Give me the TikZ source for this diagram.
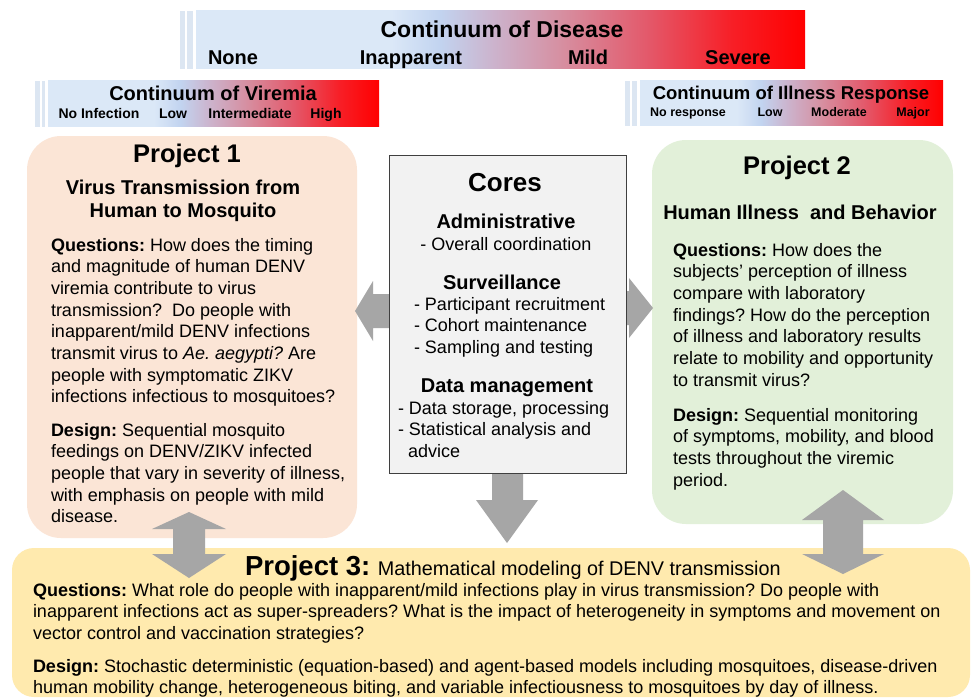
\documentclass[tikz,border=0pt]{standalone}
\usepackage{fontspec}
\setmainfont{Liberation Sans}
\frenchspacing
\definecolor{pAfill}{HTML}{FBE5D6}
\definecolor{pBfill}{HTML}{E2F0D9}
\definecolor{pCfill}{HTML}{FFEAAE}
\definecolor{corefill}{HTML}{F2F2F2}
\definecolor{coreline}{HTML}{3F3F3F}
\definecolor{arrowgray}{HTML}{A6A6A6}
\definecolor{stripe}{HTML}{DCE6F2}
\pgfdeclarehorizontalshading{contgrad}{100bp}{rgb(0bp)=(0.86,0.91,0.97); rgb(25bp)=(0.86,0.91,0.97); rgb(41bp)=(0.86,0.91,0.97); rgb(45bp)=(0.76,0.83,0.94); rgb(49.5bp)=(0.80,0.70,0.80); rgb(55bp)=(0.84,0.56,0.63); rgb(62bp)=(0.89,0.35,0.42); rgb(69bp)=(0.97,0.12,0.15); rgb(75bp)=(1,0,0); rgb(100bp)=(1,0,0)}
\newcommand\fsz[1]{\fontsize{#1}{21.7}\selectfont}
\newcommand\para[1]{\vtop{\baselineskip=21.7pt #1}}
\begin{document}
\begin{tikzpicture}[x=1pt,y=-1pt,
  every node/.style={inner sep=0pt, outer sep=0pt, text=black},
  body/.style={anchor=base west, font=\fsz{18}},
  head/.style={anchor=base, font=\fsz{20}\bfseries},
  ttl/.style={anchor=base, font=\fsz{25.5}\bfseries},
  arrowfill/.style={fill=arrowgray}]
\useasboundingbox (0,0) rectangle (971,698);
\fill[white] (0,0) rectangle (971,698);

% ---- continuum bars ----
\fill[stripe] (180,11) rectangle (185,69);
\fill[stripe] (187,11) rectangle (193,69);
\shade[shading=contgrad] (196,11) rectangle (805,69);
\node[anchor=base, font=\fsz{23}\bfseries] (disT) at (502,38) {Continuum of Disease};
\node[anchor=base, font=\fsz{20}\bfseries] (dis1) at (233,65) {None};
\node[anchor=base, font=\fsz{20}\bfseries] (dis2) at (411,65) {Inapparent};
\node[anchor=base, font=\fsz{20}\bfseries] (dis3) at (588,65) {Mild};
\node[anchor=base, font=\fsz{20}\bfseries] (dis4) at (738,65) {Severe};

\fill[stripe] (35,81) rectangle (40,127);
\fill[stripe] (42,81) rectangle (45,127);
\shade[shading=contgrad] (48,81) rectangle (379,127);
\node[anchor=base, font=\fsz{20}\bfseries] (virT) at (213,101) {Continuum of Viremia};
\node[anchor=base, font=\fsz{14}\bfseries] (vir1) at (99,118) {No Infection};
\node[anchor=base, font=\fsz{14}\bfseries] (vir2) at (173,118) {Low};
\node[anchor=base, font=\fsz{14}\bfseries] (vir3) at (250,118) {Intermediate};
\node[anchor=base, font=\fsz{14}\bfseries] (vir4) at (326,118) {High};

\fill[stripe] (625,81) rectangle (630,126);
\fill[stripe] (632,81) rectangle (637,126);
\shade[shading=contgrad] (640,81) rectangle (943,126);
\node[anchor=base, font=\fsz{18.5}\bfseries] (illT) at (791,100) {Continuum of Illness Response};
\node[anchor=base, font=\fsz{12.5}\bfseries] (ill1) at (688,116.5) {No response};
\node[anchor=base, font=\fsz{12.5}\bfseries] (ill2) at (770,116.5) {Low};
\node[anchor=base, font=\fsz{12.5}\bfseries] (ill3) at (839,116.5) {Moderate};
\node[anchor=base, font=\fsz{12.5}\bfseries] (ill4) at (913,116.5) {Major};

% ---- boxes ----
\node[fill=pAfill, rounded corners=34pt, minimum width=330pt, minimum height=402pt, anchor=north west] (p1) at (27,136) {};
\node[fill=pBfill, rounded corners=34pt, minimum width=301pt, minimum height=384pt, anchor=north west] (p2) at (652,140) {};
\node[fill=pCfill, rounded corners=22pt, minimum width=958pt, minimum height=149pt, anchor=north west] (p3) at (12,548) {};

% ---- arrows from cores ----
\fill[arrowfill] (390,294) -- (373,294) -- (373,281) -- (355,311) -- (373,341) -- (373,328) -- (390,328) -- cycle;
\fill[arrowfill] (625,291) -- (629,291) -- (629,278) -- (653,308) -- (629,338) -- (629,325) -- (625,325) -- cycle;
\fill[arrowfill] (492,472) -- (523,472) -- (523,500) -- (538,500) -- (507,543) -- (476,500) -- (492,500) -- cycle;

\node[fill=corefill, draw=coreline, line width=1pt, minimum width=237pt, minimum height=318pt, anchor=north west] (cores) at (389,155) {};

% ---- double arrows ----
\fill[arrowfill] (173,529) -- (152,529) -- (189,512) -- (226,529) -- (205,529) -- (205,554) -- (226,554) -- (189,578) -- (152,554) -- (173,554) -- cycle;
\fill[arrowfill] (823,520) -- (802,520) -- (843,490) -- (884,520) -- (863,520) -- (863,554) -- (884,554) -- (843,574) -- (802,554) -- (823,554) -- cycle;

% ---- Project 1 ----
\node[ttl] (p1t) at (187,162) {Project 1};
\node[head] (p1s1) at (183,194) {Virus Transmission from};
\node[head] (p1s2) at (183,217) {Human to Mosquito};
\node[body] (p1q) at (51,251) {\para{%
\hbox{\textbf{Questions:} How does the timing}
\hbox{and magnitude of human DENV}
\hbox{viremia contribute to virus}
\hbox{transmission?\ \ Do people with}
\hbox{inapparent/mild DENV infections}
\hbox{transmit virus to \textit{Ae. aegypti?}\ Are}
\hbox{people with symptomatic ZIKV}
\hbox{infections infectious to mosquitoes?}}};
\node[body] (p1d) at (51,436) {\para{%
\hbox{\textbf{Design:} Sequential mosquito}
\hbox{feedings on DENV/ZIKV infected}
\hbox{people that vary in severity of illness,}
\hbox{with emphasis on people with mild}
\hbox{disease.}}};

% ---- Cores ----
\node[ttl, font=\fsz{26}\bfseries] (ct) at (505,191) {Cores};
\node[head] (c1) at (506,228) {Administrative};
\node[anchor=base, font=\fsz{18}] (c1a) at (506,250) {- Overall coordination};
\node[head] (c2) at (502,289) {Surveillance};
\node[body] (c2a) at (414,310) {\para{%
\hbox{- Participant recruitment}
\hbox{- Cohort maintenance}
\hbox{- Sampling and testing}}};
\node[head] (c3) at (507,392) {Data management};
\node[body] (c3a) at (398,414) {\para{%
\hbox{- Data storage, processing}
\hbox{- Statistical analysis and}
\hbox{\ \ advice}}};

% ---- Project 2 ----
\node[ttl] (p2t) at (797,174) {Project 2};
\node[head] (p2s) at (800,219) {Human Illness\ \ and Behavior};
\node[body] (p2q) at (673,256) {\para{%
\hbox{\textbf{Questions:} How does the}
\hbox{subjects' perception of illness}
\hbox{compare with laboratory}
\hbox{findings? How do the perception}
\hbox{of illness and laboratory results}
\hbox{relate to mobility and opportunity}
\hbox{to transmit virus?}}};
\node[body] (p2d) at (673,421) {\para{%
\hbox{\textbf{Design:} Sequential monitoring}
\hbox{of symptoms, mobility, and blood}
\hbox{tests throughout the viremic}
\hbox{period.}}};

% ---- Project 3 ----
\node[anchor=base west] (p3t) at (245,575) {\fontsize{27.5}{27.5}\selectfont\bfseries Project 3: \mdseries\fontsize{19.8}{19.8}\selectfont Mathematical modeling of DENV transmission};
\node[body] (p3q) at (33,596) {\para{%
\hbox{\textbf{Questions:} What role do people with inapparent/mild infections play in virus transmission? Do people with}
\hbox{inapparent infections act as super-spreaders? What is the impact of heterogeneity in symptoms and movement on}
\hbox{vector control and vaccination strategies?}}};
\node[body] (p3d) at (33,672) {\para{%
\hbox{\textbf{Design:} Stochastic deterministic (equation-based) and agent-based models including mosquitoes, disease-driven}
\hbox{human mobility change, heterogeneous biting, and variable infectiousness to mosquitoes by day of illness.}}};
\end{tikzpicture}
\end{document}
